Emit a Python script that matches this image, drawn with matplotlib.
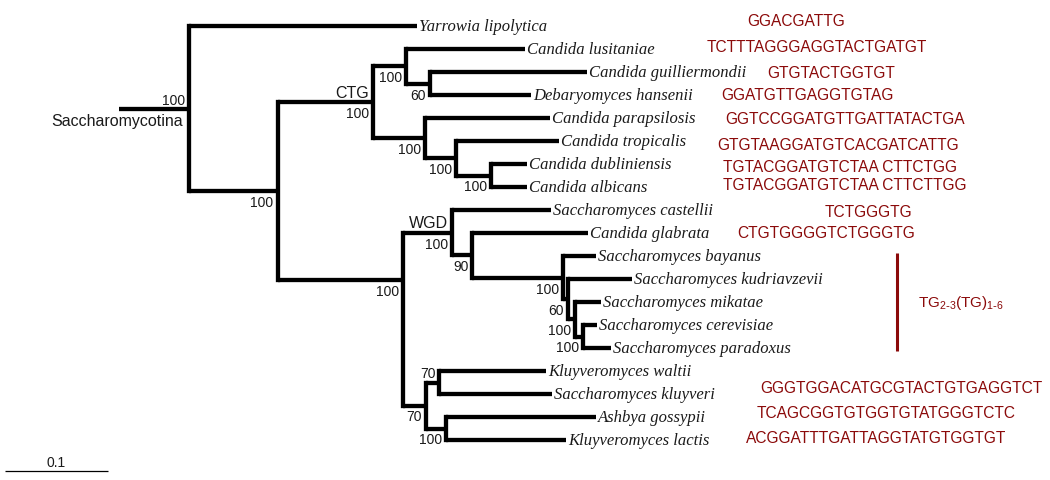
import matplotlib
matplotlib.use("Agg")
import matplotlib.pyplot as plt

# ---------------- data ----------------
node_names = ["root", "Yarrowia lipolytica", "n1", "CTG", "nL", "Candida lusitaniae",
              "nGH", "Candida guilliermondii", "Debaryomyces hansenii", "nP",
              "Candida parapsilosis", "nT", "Candida tropicalis", "nAD",
              "Candida dubliniensis", "Candida albicans", "n2", "WGD",
              "Saccharomyces castellii", "n90", "Candida glabrata", "nA",
              "Saccharomyces bayanus", "nB", "Saccharomyces kudriavzevii", "nC",
              "Saccharomyces mikatae", "nD", "Saccharomyces cerevisiae",
              "Saccharomyces paradoxus", "nK", "nW", "Kluyveromyces waltii",
              "Saccharomyces kluyveri", "nG", "Ashbya gossypii", "Kluyveromyces lactis"]
node_parent = [None, "root", "root", "n1", "CTG", "nL",
               "nL", "nGH", "nGH", "CTG",
               "nP", "nP", "nT", "nT",
               "nAD", "nAD", "n1", "n2",
               "WGD", "WGD", "n90", "n90",
               "nA", "nA", "nB", "nB",
               "nC", "nC", "nD",
               "nD", "n2", "nK", "nW",
               "nW", "nK", "nG", "nG"]
branch_length = [0.068, 0.221, 0.086, 0.093, 0.032, 0.115,
                 0.023, 0.152, 0.098, 0.050,
                 0.121, 0.030, 0.100, 0.034,
                 0.035, 0.035, 0.122, 0.047,
                 0.096, 0.020, 0.112, 0.088,
                 0.032, 0.005, 0.062, 0.007,
                 0.025, 0.008, 0.013,
                 0.027, 0.022, 0.013, 0.104,
                 0.109, 0.020, 0.145, 0.116]
# node whose incoming branch is drawn off-centre in the original (row units)
node_row_override = {"n2": 11.05}

bootstrap_nodes = ["root", "n1", "CTG", "nL", "nGH", "nP", "nT", "nAD", "n2", "WGD",
                   "n90", "nA", "nB", "nC", "nD", "nK", "nW", "nG"]
bootstrap_values = [100, 100, 100, 100, 60, 100, 100, 100, 100, 100,
                    90, 100, 60, 100, 100, 70, 70, 100]

clade_nodes = ["CTG", "WGD"]
clade_labels = ["CTG", "WGD"]
root_label = "Saccharomycotina"

seq_taxa = ["Yarrowia lipolytica", "Candida lusitaniae", "Candida guilliermondii",
            "Debaryomyces hansenii", "Candida parapsilosis", "Candida tropicalis",
            "Candida dubliniensis", "Candida albicans", "Saccharomyces castellii",
            "Candida glabrata", "Saccharomyces kluyveri", "Ashbya gossypii",
            "Kluyveromyces lactis"]
seq_text = ["GGACGATTG", "TCTTTAGGGAGGTACTGATGT", "GTGTACTGGTGT",
            "GGATGTTGAGGTGTAG", "GGTCCGGATGTTGATTATACTGA", "GTGTAAGGATGTCACGATCATTG",
            "TGTACGGATGTCTAA CTTCTGG", "TGTACGGATGTCTAA CTTCTTGG", "TCTGGGTG",
            "CTGTGGGGTCTGGGTG", "GGGTGGACATGCGTACTGTGAGGTCT", "TCAGCGGTGTGGTGTATGGGTCTC",
            "ACGGATTTGATTAGGTATGTGGTGT"]
bracket_taxa = ["Saccharomyces bayanus", "Saccharomyces paradoxus"]
bracket_label = r"TG$_{2\text{-}3}$(TG)$_{1\text{-}6}$"
scale_value = 0.1

# ---------------- layout (pixels) ----------------
W, H = 1050, 481
ROOT_X = 189          # pixel of root node
PX_PER_UNIT = 1030    # pixels per branch-length unit
ROW0, ROWH = 27, 23   # first row pixel, row height
seq_x_px = [747, 707, 767, 721, 725, 717, 723, 723, 825, 737, 760, 757, 746]
seq_y_px = [21, 47, 73, 96, 119, 146, 167, 186, 213, 234, 389, 413, 439]
bracket_x_px = 897
scale_x_px, scale_y_px = 5, 472
SEQ_COLOR = "#8b0a0a"

def dx(p):
    return p / PX_PER_UNIT

def dy(p):
    return p / ROWH

def xpx(p):
    return (p - ROOT_X) / PX_PER_UNIT

def ypx(p):
    return (p - ROW0) / ROWH

# ---------------- tree geometry ----------------
children = {n: [] for n in node_names}
blen = dict(zip(node_names, branch_length))
for n, p in zip(node_names, node_parent):
    if p is not None:
        children[p].append(n)

depth = {"root": 0.0}
for n, p in zip(node_names, node_parent):
    if p is not None:
        depth[n] = depth[p] + blen[n]

ypos = {}
counter = [0]

def assign(n):
    if not children[n]:
        ypos[n] = counter[0]
        counter[0] += 1
    else:
        for c in children[n]:
            assign(c)
        ypos[n] = node_row_override.get(
            n, (ypos[children[n][0]] + ypos[children[n][-1]]) / 2.0)

assign("root")

# ---------------- figure ----------------
fig = plt.figure(figsize=(W / 100, H / 100), dpi=100)
ax = fig.add_axes([0, 0, 1, 1])
ax.set_xlim(xpx(0), xpx(W))
ax.set_ylim(ypx(H), ypx(0))
ax.axis("off")

LW = 3.1
SANS = "Liberation Sans"
SERIF = "Liberation Serif"
TXT = "#1a1a1a"

# root stem
ax.plot([-blen["root"], 0], [ypos["root"]] * 2, color="black", lw=LW,
        solid_capstyle="butt")

for n in node_names:
    ch = children[n]
    if not ch:
        continue
    ax.plot([depth[n]] * 2, [ypos[ch[0]], ypos[ch[-1]]], color="black", lw=LW,
            solid_capstyle="projecting")
    for c in ch:
        ax.plot([depth[n], depth[c]], [ypos[c]] * 2, color="black", lw=LW,
                solid_capstyle="butt")

# tip labels
for n in node_names:
    if not children[n]:
        ax.text(depth[n] + dx(2), ypos[n], n, ha="left", va="center",
                family=SERIF, style="italic", fontsize=12, color=TXT)

# bootstrap values
above = {"root", "nW"}
for n, v in zip(bootstrap_nodes, bootstrap_values):
    off = -dy(9) if n in above else dy(11)
    ax.text(depth[n] - dx(4), ypos[n] + off, str(v), ha="right", va="center",
            family=SANS, fontsize=10, color=TXT)

# clade labels
for n, lab in zip(clade_nodes, clade_labels):
    ax.text(depth[n] - dx(4), ypos[n] - dy(10), lab, ha="right", va="center",
            family=SANS, fontsize=11.5, color=TXT)
ax.text(-dx(6), ypos["root"] + dy(12), root_label, ha="right", va="center",
        family=SANS, fontsize=11.5, color=TXT)

# sequences
for s, xp, yp in zip(seq_text, seq_x_px, seq_y_px):
    ax.text(xpx(xp), ypx(yp), s, ha="left", va="center", family=SANS,
            fontsize=11.2, color=SEQ_COLOR)

# bracket
y0 = ypos[bracket_taxa[0]] - dy(3)
y1 = ypos[bracket_taxa[1]] + dy(3)
ax.plot([xpx(bracket_x_px)] * 2, [y0, y1], color=SEQ_COLOR, lw=2.2,
        solid_capstyle="butt")
plt.rcParams["mathtext.default"] = "regular"
ax.text(xpx(bracket_x_px + 21), (y0 + y1) / 2, bracket_label, ha="left", va="center",
        family=SANS, fontsize=11, color=SEQ_COLOR)

# scale bar
sx = xpx(scale_x_px)
sy = ypx(scale_y_px)
ax.plot([sx, sx + scale_value], [sy, sy], color="black", lw=0.9,
        solid_capstyle="butt")
ax.text(sx + scale_value / 2, sy - dy(9), f"{scale_value}", ha="center", va="center",
        family=SANS, fontsize=10, color=TXT)

fig.savefig("out.png", dpi=100)
